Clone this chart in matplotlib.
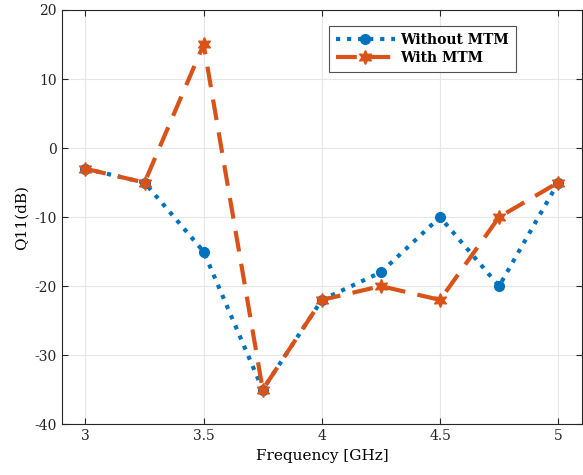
import numpy as np
import matplotlib.pyplot as plt
from matplotlib.lines import Line2D

# Reflection coefficient sweep, with and without the metamaterial layer
freq_ghz = [3.0, 3.25, 3.5, 3.75, 4.0, 4.25, 4.5, 4.75, 5.0]
q11_without = [-3, -5, -15, -35, -22, -18, -10, -20, -5]
q11_with = [-3, -5, 15, -35, -22, -20, -22, -10, -5]

plt.rcParams['font.family'] = ['DejaVu Serif']
plt.rcParams['axes.unicode_minus'] = False

fig = plt.figure(figsize=(5.83, 4.75), dpi=100)
ax = fig.add_axes([0.106, 0.107, 0.892, 0.872])

blue = '#0072BD'
orange = '#D95319'
star = (6, 1, 0)

ax.plot(freq_ghz, q11_without, linestyle=':', color=blue, linewidth=3,
        marker='o', markersize=7, markerfacecolor=blue, markeredgecolor=blue)
ax.plot(freq_ghz, q11_with, linestyle=(0, (5, 3)), color=orange, linewidth=3)
# six-pointed star markers on top of the dashed line
ax.plot(freq_ghz, q11_with, linestyle='none', color=orange,
        marker=star, markersize=10, markerfacecolor=orange,
        markeredgecolor=orange)

ax.set_xlim(2.9, 5.1)
ax.set_ylim(-40, 20)
ax.set_xticks([3, 3.5, 4, 4.5, 5])
ax.set_xticklabels(['3', '3.5', '4', '4.5', '5'])
ax.set_yticks(np.arange(-40, 21, 10))
ax.grid(True, color='#e6e6e6', linewidth=0.8)
ax.set_axisbelow(True)
ax.tick_params(direction='in', length=4, labelsize=10, top=True, right=True,
               colors='#262626')
for s in ax.spines.values():
    s.set_color('#262626')
    s.set_linewidth(0.8)

ax.set_xlabel('Frequency [GHz]', fontsize=11)
ax.set_ylabel('Q11(dB)', fontsize=11)

handles = [
    Line2D([], [], linestyle=':', color=blue, linewidth=3, marker='o',
           markersize=7),
    Line2D([], [], linestyle=(0, (5, 3)), color=orange, linewidth=3,
           marker=star, markersize=10),
]
leg = ax.legend(handles, ['Without MTM', 'With MTM'], loc='upper right',
                bbox_to_anchor=(0.873, 0.961), fontsize=10, frameon=True,
                fancybox=False, edgecolor='#262626', handlelength=4.2,
                borderpad=0.5, labelspacing=0.3, handletextpad=0.4,
                borderaxespad=0)
leg.get_frame().set_linewidth(0.8)
for t in leg.get_texts():
    t.set_fontweight('bold')

fig.savefig('out.png', dpi=100)
